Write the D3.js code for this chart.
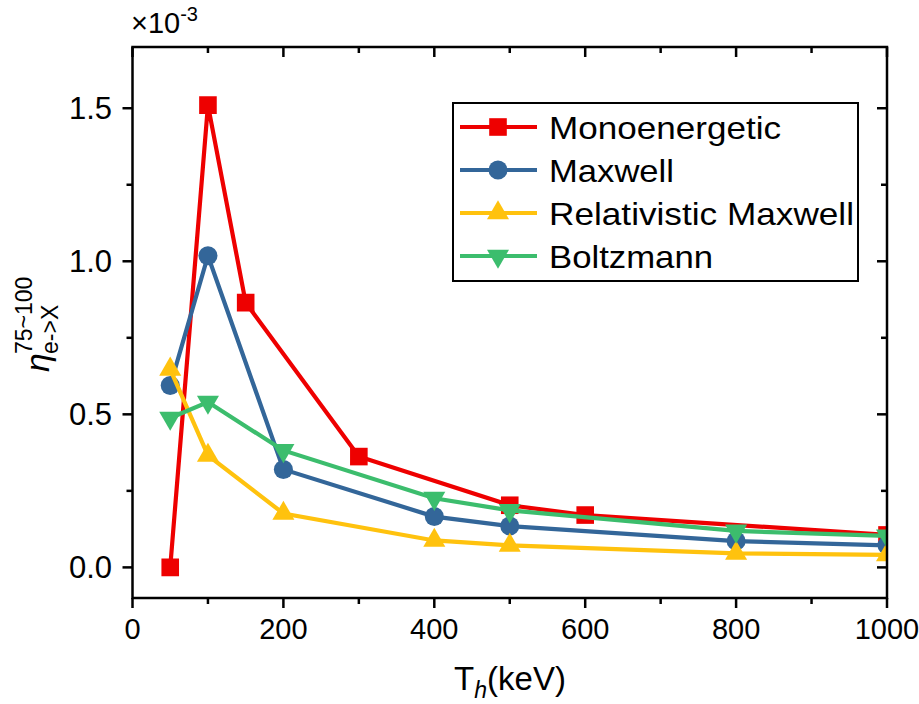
<!DOCTYPE html>
<html><head><meta charset="utf-8">
<script src="https://cdn.jsdelivr.net/npm/d3@7"></script>
<style>body{margin:0;background:#fff}svg{font-family:"Liberation Sans",Arial,sans-serif}</style>
</head><body><svg id="c" width="919" height="704"></svg>
<script>
const xMono = [50,100,150,300,500,600,1000];
const yMono = [0,1.51,0.865,0.362,0.203,0.171,0.106];
const xMax = [50,100,200,400,500,800,1000];
const yMax = [0.594,1.018,0.32,0.166,0.135,0.086,0.072];
const xRel = [50,100,200,400,500,800,1000];
const yRel = [0.647,0.366,0.176,0.088,0.072,0.046,0.041];
const xBol = [50,100,200,400,500,800,1000];
const yBol = [0.488,0.54,0.382,0.226,0.186,0.119,0.103];
const seriesNames = ["Monoenergetic","Maxwell","Relativistic Maxwell","Boltzmann"];
const colors = ["#ee0000","#336699","#ffc20e","#3cbd6d"];
const xTicks = [0,200,400,600,800,1000];
const yTicks = [0.0,0.5,1.0,1.5];

const svg = d3.select("#c");
const L=132.5,R=887,T=47,B=598;
const x = d3.scaleLinear().domain([0,1000]).range([L,R]);
const y = d3.scaleLinear().domain([-0.1,1.7]).range([B,T]);

svg.append("defs").append("clipPath").attr("id","clip")
  .append("rect").attr("x",L).attr("y",T).attr("width",R-L).attr("height",B-T);

const series = [
  {x:xMono,y:yMono,sym:d3.symbolSquare,size:310},
  {x:xMax,y:yMax,sym:d3.symbolCircle,size:285},
  {x:xRel,y:yRel,sym:d3.symbolTriangle,size:210},
  {x:xBol,y:yBol,sym:d3.symbolTriangle,size:210,rot:180}
];
const g = svg.append("g").attr("clip-path","url(#clip)");
const line = d3.line().x(d=>x(d[0])).y(d=>y(d[1]));
series.forEach((s,i)=>{
  const pts = s.x.map((v,j)=>[v,s.y[j]]);
  g.append("path").attr("d",line(pts)).attr("fill","none").attr("stroke",colors[i]).attr("stroke-width",4.2).attr("stroke-linejoin","miter");
  g.selectAll(null).data(pts).enter().append("path")
    .attr("d",d3.symbol().type(s.sym).size(s.size))
    .attr("transform",d=>`translate(${x(d[0])},${y(d[1])})${s.rot?" rotate(180)":""}`)
    .attr("fill",colors[i]);
});

// axes
const ax = svg.append("g").attr("stroke","#000").attr("stroke-width",2.5).attr("fill","none");
ax.append("rect").attr("x",L).attr("y",T).attr("width",R-L).attr("height",B-T);
const xMinor = d3.range(100,1000,200);
const yMinorAll = [0.25,0.75,1.25];
const tick = (x1,y1,x2,y2)=>ax.append("line").attr("x1",x1).attr("y1",y1).attr("x2",x2).attr("y2",y2);
xTicks.forEach(v=>{tick(x(v),B,x(v),B+10);tick(x(v),T,x(v),T+10);});
xMinor.forEach(v=>{tick(x(v),B,x(v),B+6);tick(x(v),T,x(v),T+6);});
yTicks.forEach(v=>{tick(L,y(v),L-10,y(v));tick(R,y(v),R-10,y(v));});
yMinorAll.forEach(v=>{tick(L,y(v),L-6,y(v));tick(R,y(v),R-6,y(v));});

const lab = svg.append("g").attr("fill","#000");
xTicks.forEach(v=>lab.append("text").attr("font-size",29).attr("x",x(v)).attr("y",639).attr("text-anchor","middle").text(v));
yTicks.forEach(v=>lab.append("text").attr("font-size",31).attr("x",112).attr("y",y(v)+11).attr("text-anchor","end").text(d3.format(".1f")(v)));

// multiplier
const m = svg.append("text").attr("x",131).attr("y",33).attr("font-size",29);
m.append("tspan").text("×10");
m.append("tspan").attr("dy",-12).attr("font-size",20).text("-3");

// x title
const xt = svg.append("text").attr("x",510).attr("y",690).attr("text-anchor","middle").attr("font-size",33);
xt.append("tspan").text("T");
xt.append("tspan").attr("dy",8).attr("font-size",23).attr("font-style","italic").text("h");
xt.append("tspan").attr("dy",-8).text("(keV)");

// y title
const yt = svg.append("g").attr("transform","translate(49,372) rotate(-90)");
yt.append("text").attr("x",0).attr("y",0).attr("font-size",34).attr("font-style","italic").text("η");
yt.append("text").attr("x",18).attr("y",-17).attr("font-size",23).text("75~100");
yt.append("text").attr("x",18).attr("y",9).attr("font-size",23).text("e->X");

// legend
const legW = [232,125,305,164];
const lg = svg.append("g");
lg.append("rect").attr("x",453).attr("y",103).attr("width",405).attr("height",178).attr("fill","#fff").attr("stroke","#000").attr("stroke-width",2);
seriesNames.forEach((n,i)=>{
  const yy = 127+i*43;
  lg.append("line").attr("x1",460).attr("x2",537).attr("y1",yy).attr("y2",yy).attr("stroke",colors[i]).attr("stroke-width",4.2);
  lg.append("path").attr("d",d3.symbol().type(series[i].sym).size(series[i].size))
    .attr("transform",`translate(498,${yy})${series[i].rot?" rotate(180)":""}`).attr("fill",colors[i]);
  lg.append("text").attr("x",549).attr("y",yy+12).attr("font-size",32)
    .attr("textLength",legW[i]).attr("lengthAdjust","spacingAndGlyphs").text(n);
});
</script></body></html>
